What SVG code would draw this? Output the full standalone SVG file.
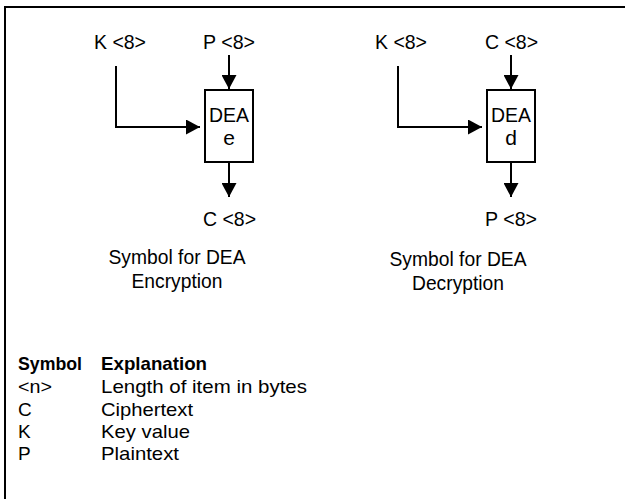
<svg xmlns="http://www.w3.org/2000/svg" width="625" height="499" viewBox="0 0 625 499">
<defs>
<style>
text{font-family:"Liberation Sans",Arial,sans-serif;font-size:21px;fill:#000}
.lg{font-size:19px}
.b{font-weight:bold}
.m{text-anchor:middle}
.ln{fill:none;stroke:#000;stroke-width:2}
.box{fill:#fff;stroke:#000;stroke-width:2}
</style>
<marker id="ah" viewBox="0 0 14 15" refX="14" refY="7.5" markerWidth="14" markerHeight="15" markerUnits="userSpaceOnUse" orient="auto">
<path d="M0,0 L14,7.5 L0,15 Z" fill="#000"/>
</marker>
</defs>
<rect width="625" height="499" fill="#fff"/>
<path class="ln" d="M5,499 V7 H625"/>
<g id="connectors">
<path class="ln" d="M229,55 V89" marker-end="url(#ah)"/>
<path class="ln" d="M116,66 V127 H200" marker-end="url(#ah)"/>
<path class="ln" d="M229,163 V197" marker-end="url(#ah)"/>
<path class="ln" d="M511,55 V89" marker-end="url(#ah)"/>
<path class="ln" d="M398,66 V127 H482" marker-end="url(#ah)"/>
<path class="ln" d="M511,163 V197" marker-end="url(#ah)"/>
</g>
<g id="enc">
<text x="94" y="49" textLength="52" lengthAdjust="spacingAndGlyphs">K &lt;8&gt;</text>
<text x="203" y="49" textLength="52" lengthAdjust="spacingAndGlyphs">P &lt;8&gt;</text>
<g id="dea-e"><rect class="box" x="205" y="90" width="48" height="72"/>
<text class="m" x="229" y="122" textLength="40" lengthAdjust="spacingAndGlyphs">DEA</text>
<text class="m" x="229" y="145">e</text></g>
<text x="203" y="226" textLength="53" lengthAdjust="spacingAndGlyphs">C &lt;8&gt;</text>
<text class="m" x="177" y="264" textLength="137" lengthAdjust="spacingAndGlyphs">Symbol for DEA</text>
<text class="m" x="177" y="288" textLength="91" lengthAdjust="spacingAndGlyphs">Encryption</text>
</g>
<g id="dec">
<text x="375" y="49" textLength="52" lengthAdjust="spacingAndGlyphs">K &lt;8&gt;</text>
<text x="485" y="49" textLength="53" lengthAdjust="spacingAndGlyphs">C &lt;8&gt;</text>
<g id="dea-d"><rect class="box" x="487" y="90" width="48" height="72"/>
<text class="m" x="511" y="122" textLength="40" lengthAdjust="spacingAndGlyphs">DEA</text>
<text class="m" x="511" y="145">d</text></g>
<text x="485" y="226" textLength="52" lengthAdjust="spacingAndGlyphs">P &lt;8&gt;</text>
<text class="m" x="458" y="266" textLength="137" lengthAdjust="spacingAndGlyphs">Symbol for DEA</text>
<text class="m" x="458" y="290" textLength="92" lengthAdjust="spacingAndGlyphs">Decryption</text>
</g>
<g id="legend">
<text class="lg b" x="18" y="370" textLength="64" lengthAdjust="spacingAndGlyphs">Symbol</text>
<text class="lg b" x="101" y="370" textLength="106" lengthAdjust="spacingAndGlyphs">Explanation</text>
<text class="lg" x="18" y="393" textLength="34" lengthAdjust="spacingAndGlyphs">&lt;n&gt;</text>
<text class="lg" x="101" y="393" textLength="206" lengthAdjust="spacingAndGlyphs">Length of item in bytes</text>
<text class="lg" x="18" y="416">C</text>
<text class="lg" x="101" y="416" textLength="92" lengthAdjust="spacingAndGlyphs">Ciphertext</text>
<text class="lg" x="18" y="438">K</text>
<text class="lg" x="101" y="438" textLength="89" lengthAdjust="spacingAndGlyphs">Key value</text>
<text class="lg" x="18" y="460">P</text>
<text class="lg" x="101" y="460" textLength="78" lengthAdjust="spacingAndGlyphs">Plaintext</text>
</g>
</svg>
